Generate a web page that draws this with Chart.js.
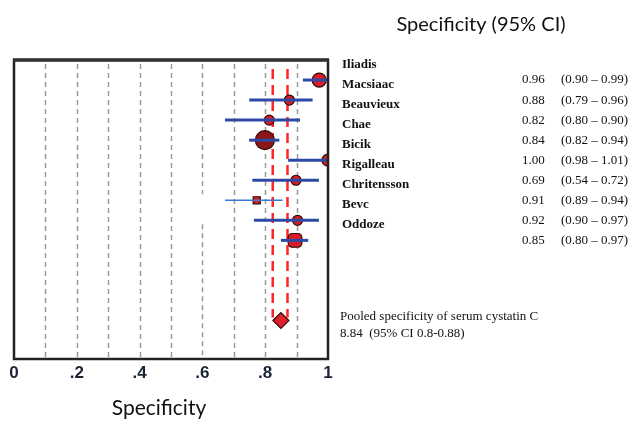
<!DOCTYPE html>
<html>
<head>
<meta charset="utf-8">
<script src="https://cdn.jsdelivr.net/npm/chart.js@4"></script>
<style>
  html, body { margin: 0; padding: 0; background: #fff; }
  #wrap { width: 635px; height: 421px; }
</style>
</head>
<body>
<div id="wrap"><canvas id="forest" width="635" height="421"></canvas></div>
<script>
// study names and printed estimates
const studies = ["Iliadis", "Macsiaac", "Beauvieux", "Chae", "Bicik", "Rigalleau", "Chritensson", "Bevc", "Oddoze"];
const estText = ["0.96", "0.88", "0.82", "0.84", "1.00", "0.69", "0.91", "0.92", "0.85"];
const ciText = ["(0.90 \u2013 0.99)", "(0.79 \u2013 0.96)", "(0.80 \u2013 0.90)", "(0.82 \u2013 0.94)", "(0.98 \u2013 1.01)",
  "(0.54 \u2013 0.72)", "(0.89 \u2013 0.94)", "(0.90 \u2013 0.97)", "(0.80 \u2013 0.97)"];

// marker positions and CI bars as drawn in the plot
const pointEst = [0.972, 0.877, 0.813, 0.799, 1.0, 0.898, 0.773, 0.903, 0.895];
const ciLow = [0.92, 0.749, 0.672, 0.749, 0.873, 0.759, 0.672, 0.764, 0.85];
const ciHigh = [1.0, 0.951, 0.911, 0.845, 1.0, 0.971, 0.855, 0.971, 0.937];

// pooled estimate + its band
const pooledEst = 0.85;
const pooledLow = 0.824;
const pooledHigh = 0.871;

// axis ticks
const gridTicks = [0.1, 0.2, 0.3, 0.4, 0.5, 0.6, 0.7, 0.8, 0.9];
const tickValues = [0, 0.2, 0.4, 0.6, 0.8, 1];
const tickLabels = ["0", ".2", ".4", ".6", ".8", "1"];

const markerStyle = ["circle", "circle", "circle", "circle", "circle", "circle", "rect", "circle", "rectRounded"];
const markerSize = [7, 5, 5, 9.5, 6, 5, 5, 5, 8];

// one line dataset per CI bar
const ciSets = studies.map((s, i) => ({
  type: "line",
  label: s,
  data: [{ x: ciLow[i], y: i + 1 }, { x: ciHigh[i], y: i + 1 }],
  borderColor: i === 6 ? "#3b78cf" : "#2d49a6",
  borderWidth: i === 6 ? 1.5 : 3,
  pointRadius: 0,
  order: 0
}));

const bandSets = [pooledLow, pooledHigh].map(v => ({
  type: "line",
  data: [{ x: v, y: 0.45 }, { x: v, y: 12.85 }],
  borderColor: "#ff2626",
  borderWidth: 2.5,
  borderDash: [10, 6],
  pointRadius: 0,
  order: 3
}));

const markers = {
  type: "scatter",
  data: pointEst.map((v, i) => ({ x: v, y: i + 1 })),
  pointStyle: markerStyle,
  pointRadius: markerSize,
  backgroundColor: pointEst.map((v, i) => i === 3 ? "#8e1616" : "#d81e25"),
  borderColor: "#2a0a0a",
  borderWidth: 1.2,
  clip: 0,
  order: 1
};

const pooled = {
  type: "scatter",
  data: [{ x: pooledEst, y: 13 }],
  pointStyle: "rectRot",
  pointRadius: 8,
  backgroundColor: "#e0202a",
  borderColor: "#3a0a0a",
  borderWidth: 1.2,
  order: 1
};

const decor = {
  id: "decor",
  beforeDatasetsDraw(chart) {
    const ctx = chart.ctx;
    const x = chart.scales.x;
    const y = chart.scales.y;
    const a = chart.chartArea;
    ctx.save();
    ctx.strokeStyle = "#9a9a9a";
    ctx.lineWidth = 1.5;
    ctx.setLineDash([5, 4]);
    gridTicks.forEach(t => {
      const px = Math.round(x.getPixelForValue(t)) + 0.5;
      ctx.beginPath();
      if (t === 0.6) {
        // the .6 line is broken in the source figure
        ctx.moveTo(px, a.top + 4);
        ctx.lineTo(px, y.getPixelForValue(6.7));
        ctx.moveTo(px, y.getPixelForValue(8.2));
      } else {
        ctx.moveTo(px, a.top + 4);
      }
      ctx.lineTo(px, a.bottom);
      ctx.stroke();
    });
    ctx.restore();
  },
  afterDraw(chart) {
    const ctx = chart.ctx;
    const x = chart.scales.x;
    const y = chart.scales.y;
    const a = chart.chartArea;
    ctx.save();
    // frame
    ctx.strokeStyle = "#222";
    ctx.lineWidth = 2.5;
    ctx.strokeRect(a.left, a.top, a.right - a.left, a.bottom - a.top);
    ctx.strokeStyle = "#333";
    ctx.lineWidth = 3.5;
    ctx.beginPath();
    ctx.moveTo(a.left - 1, a.top);
    ctx.lineTo(a.right + 1, a.top);
    ctx.stroke();

    // x tick labels
    ctx.fillStyle = "#1c2336";
    ctx.font = "bold 17px 'Liberation Sans Narrow', 'Liberation Sans', Arial, sans-serif";
    ctx.textAlign = "center";
    ctx.textBaseline = "middle";
    tickValues.forEach((t, i) => {
      ctx.fillText(tickLabels[i], x.getPixelForValue(t), a.bottom + 14);
    });

    // axis title + column title
    ctx.fillStyle = "#111";
    ctx.font = "21px Lato, 'Open Sans', sans-serif";
    ctx.fillText("Specificity", 159, 408);
    ctx.font = "20px Lato, 'Open Sans', sans-serif";
    ctx.fillText("Specificity (95% CI)", 481, 25);

    // study names, estimates, CIs
    ctx.textAlign = "left";
    studies.forEach((s, i) => {
      ctx.font = "bold 13px 'Liberation Serif', serif";
      ctx.fillText(s, 342, y.getPixelForValue(i + 0.24));
      ctx.font = "13px 'Liberation Serif', serif";
      ctx.fillText(estText[i], 522, y.getPixelForValue(i + 1));
      ctx.fillText(ciText[i], 561, y.getPixelForValue(i + 1));
    });

    // pooled note
    ctx.font = "13px 'Liberation Serif', serif";
    ctx.fillText("Pooled specificity of serum cystatin C", 340, 317);
    ctx.fillText("8.84  (95% CI 0.8-0.88)", 340, 334);
    ctx.restore();
  }
};

new Chart(document.getElementById("forest"), {
  type: "scatter",
  data: { datasets: [...ciSets, ...bandSets, markers, pooled] },
  options: {
    responsive: false,
    animation: false,
    events: [],
    layout: { padding: { left: 14, right: 307, top: 60, bottom: 62 } },
    plugins: { legend: { display: false }, tooltip: { enabled: false } },
    scales: {
      x: { type: "linear", min: 0, max: 1, display: false },
      y: { type: "linear", min: 0, max: 14.92, reverse: true, display: false }
    }
  },
  plugins: [decor]
});
</script>
</body>
</html>
